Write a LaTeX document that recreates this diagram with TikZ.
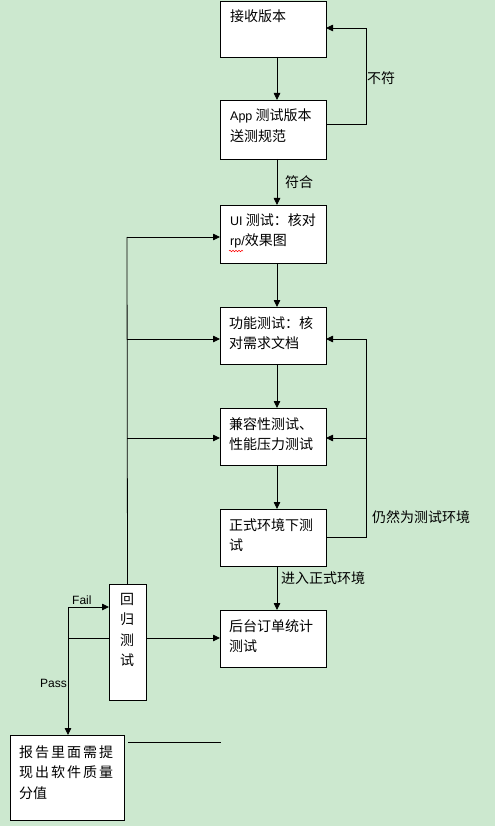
\documentclass[tikz,border=0pt]{standalone}
\usepackage{fontspec}
\setmainfont{Noto Sans CJK SC}
\newfontfamily\lat{Liberation Sans}
\usetikzlibrary{arrows.meta,decorations.pathmorphing}
\definecolor{bg}{RGB}{204,232,207}
\begin{document}
\begin{tikzpicture}[x=1pt,y=-1pt,
  box/.style={draw=black,fill=white,line width=0.8pt,inner sep=0pt,outer sep=0pt,minimum width=106pt},
  txt/.style={anchor=base west,align=left,inner sep=0pt,font=\fontsize{14}{20.5}\selectfont},
  lbl/.style={anchor=base west,inner sep=0pt,font=\fontsize{14}{17}\selectfont},
  ln/.style={draw=black,line width=0.8pt},
  arr/.style={ln,-{Triangle[length=7pt,width=6.5pt]}}]
\fill[bg] (0,0) rectangle (495,826);
\useasboundingbox (0,0) rectangle (495,826);
% boxes
\node[box,minimum height=56pt] (b1) at (273,29) {};
\node[box,minimum height=59pt] (b2) at (273,129.5) {};
\node[box,minimum height=58pt] (b3) at (273,234) {};
\node[box,minimum height=57pt] (b4) at (273,335.5) {};
\node[box,minimum height=57pt] (b5) at (273,436.5) {};
\node[box,minimum height=57pt] (b6) at (273,537.5) {};
\node[box,minimum height=57pt] (b7) at (273,638.5) {};
\node[box,minimum width=37pt,minimum height=116pt] (hg) at (127.5,642) {};
\node[box,minimum width=114pt,minimum height=85pt] (rp) at (67,777.5) {};
% texts (anchor = baseline of the last line)
\node[txt] (t1) at (230,22) {接收版本};
\node[txt] (t2) at (230,141.5) {{\lat\fontsize{12.5}{20.5}\selectfont App} 测试版本\\送测规范};
\node[txt] (t3) at (230,245.5) {{\lat\fontsize{12.5}{20.5}\selectfont UI} 测试：核对\\{\lat\fontsize{12.5}{20.5}\selectfont rp/}效果图};
\node[txt] (t4) at (229,348.5) {功能测试：核\\对需求文档};
\node[txt] (t5) at (229,449.5) {兼容性测试、\\性能压力测试};
\node[txt] (t6) at (229,550.5) {正式环境下测\\试};
\node[txt] (t7) at (229,651.5) {后台订单统计\\测试};
\node[txt,anchor=base,align=center] (t8) at (127,665.5) {回\\归\\测\\试};
\node[txt] (t9) at (19,798) {\makebox[94pt][s]{报\hfill 告\hfill 里\hfill 面\hfill 需\hfill 提}\\\makebox[94pt][s]{现\hfill 出\hfill 软\hfill 件\hfill 质\hfill 量}\\分值};
% spell-check squiggle
\coordinate (sq1) at (229,251);
\coordinate (sq2) at (243,251);
\draw[red,line width=0.5pt,decorate,decoration={snake,amplitude=0.8pt,segment length=3pt}] (sq1) -- (sq2);
% main flow
\draw[arr] ([xshift=4pt]b1.south) -- ([xshift=4pt]b2.north);
\draw[arr] ([xshift=4pt]b2.south) -- ([xshift=4pt]b3.north);
\draw[arr] ([xshift=4pt]b3.south) -- ([xshift=4pt]b4.north);
\draw[arr] ([xshift=4pt]b4.south) -- ([xshift=4pt]b5.north);
\draw[arr] ([xshift=4pt]b5.south) -- ([xshift=4pt]b6.north);
\draw[arr] ([xshift=4pt]b6.south) -- ([xshift=4pt]b7.north);
% 不符 loop
\coordinate (r0) at (366,124);
\coordinate (r1) at (366,28);
\draw[arr] (r0 -| b2.east) -- (r0) -- (r1) -- (r1 -| b1.east);
% 仍然为测试环境 loop
\coordinate (r2) at (366,537);
\coordinate (r3) at (366,438);
\coordinate (r4) at (366,339);
\draw[ln] (r2 -| b6.east) -- (r2) -- (r3);
\draw[arr] (r3) -- (r4) -- (r4 -| b4.east);
\draw[arr] (r3) -- (r3 -| b5.east);
% left feedback line
\coordinate (l1) at (127,237);
\coordinate (l2) at (127,339);
\coordinate (l3) at (127,438);
\draw[ln] (hg.north) -- (l1);
\draw[arr] (l1) -- (l1 -| b3.west);
\draw[arr] (l2) -- (l2 -| b4.west);
\draw[arr] (l3) -- (l3 -| b5.west);
% hg to b7, fail / pass
\coordinate (fp) at (68,638);
\coordinate (fl) at (68,607);
\draw[arr] (fp -| hg.east) -- (fp -| b7.west);
\draw[ln] (fp -| hg.west) -- (fp);
\draw[arr] (fp) -- (fl) -- (fl -| hg.west);
\draw[arr] (fp) -- (fp |- rp.north);
% loose line
\coordinate (x1) at (128,742);
\coordinate (x2) at (221,742);
\draw[ln] (x1) -- (x2);
% labels
\node[lbl] (n1) at (367,84) {不符};
\node[lbl] (n2) at (285,188) {符合};
\node[lbl] (n3) at (372,522) {仍然为测试环境};
\node[lbl] (n4) at (281,583) {进入正式环境};
\node[lbl,font=\lat\fontsize{12}{14}\selectfont] (n5) at (72,604) {Fail};
\node[lbl,font=\lat\fontsize{12}{14}\selectfont] (n6) at (40,687) {Pass};
\end{tikzpicture}
\end{document}
